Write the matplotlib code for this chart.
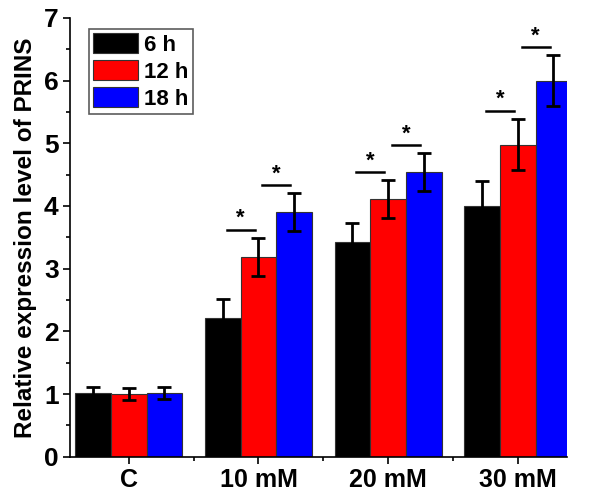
import matplotlib.pyplot as plt
import numpy as np
from matplotlib.ticker import MultipleLocator

plt.rcParams["font.family"] = ["Liberation Sans", "DejaVu Sans"]
plt.rcParams["font.weight"] = "bold"

groups = ["C", "10 mM", "20 mM", "30 mM"]
series = ["6 h", "12 h", "18 h"]
colors = ["#000000", "#ff0000", "#0000ff"]

means = {
    "6 h": [1.02, 2.22, 3.43, 4.00],
    "12 h": [1.00, 3.19, 4.11, 4.98],
    "18 h": [1.02, 3.90, 4.54, 6.00],
}
errors = {
    "6 h": [0.09, 0.29, 0.30, 0.40],
    "12 h": [0.09, 0.30, 0.30, 0.41],
    "18 h": [0.10, 0.30, 0.30, 0.40],
}
# groups with significance marks (pairs 6h-12h and 12h-18h)
sig_groups = [1, 2, 3]

fig = plt.figure(figsize=(6.02, 4.96), dpi=100)
ax = fig.add_axes([0.116, 0.079, 0.826, 0.885])

x = np.arange(len(groups))
width = 0.275
offsets = [-width, 0, width]

for name, color, off in zip(series, colors, offsets):
    ax.bar(x + off, means[name], width, color=color, edgecolor="#333333",
           linewidth=0.8, label=name, zorder=2)
    ax.errorbar(x + off, means[name], yerr=errors[name], fmt="none",
                ecolor="black", elinewidth=2, capsize=5, capthick=2, zorder=3)

for g in sig_groups:
    for a, b in [("6 h", "12 h"), ("12 h", "18 h")]:
        ia, ib = series.index(a), series.index(b)
        top = means[b][g] + errors[b][g] + 0.13
        xa = g + offsets[ia] + 0.03
        xb = g + offsets[ib] - 0.03
        ax.plot([xa, xb], [top, top], color="black", lw=1.8, zorder=3)
        ax.text((xa + xb) / 2, top + 0.01, "*", ha="center", va="bottom",
                fontsize=16, fontweight="bold")

ax.set_xlim(-0.455, 3.38)
ax.set_ylim(0, 7)
ax.set_xticks(x)
ax.set_xticklabels(groups, fontsize=18, fontweight="bold")
ax.xaxis.set_minor_locator(MultipleLocator(1, offset=0.5))
ax.yaxis.set_major_locator(MultipleLocator(1))
ax.yaxis.set_minor_locator(MultipleLocator(0.5))
for lbl in ax.get_yticklabels():
    lbl.set_fontsize(19)
    lbl.set_fontweight("bold")
ax.tick_params(axis="both", which="major", direction="out", length=5, width=1.2)
ax.tick_params(axis="both", which="minor", direction="out", length=3, width=1.2)
ax.tick_params(axis="x", pad=3)
ax.tick_params(axis="y", pad=3)
ax.spines["top"].set_visible(False)
ax.spines["right"].set_visible(False)
ax.spines["left"].set_linewidth(1.2)
ax.spines["bottom"].set_linewidth(1.2)

ax.set_ylabel("Relative expression level of PRINS", fontsize=17.5,
              fontweight="bold", labelpad=5)

leg = ax.legend(loc="upper left", bbox_to_anchor=(0.038, 0.975),
                prop={"weight": "bold", "size": 16}, frameon=True, fancybox=False,
                handlelength=2.0, handleheight=1.0, handletextpad=0.3,
                borderpad=0.2, labelspacing=0.2, borderaxespad=0)
leg.get_frame().set_edgecolor("#333333")
leg.get_frame().set_linewidth(1.2)

fig.savefig("out.png", dpi=100)
